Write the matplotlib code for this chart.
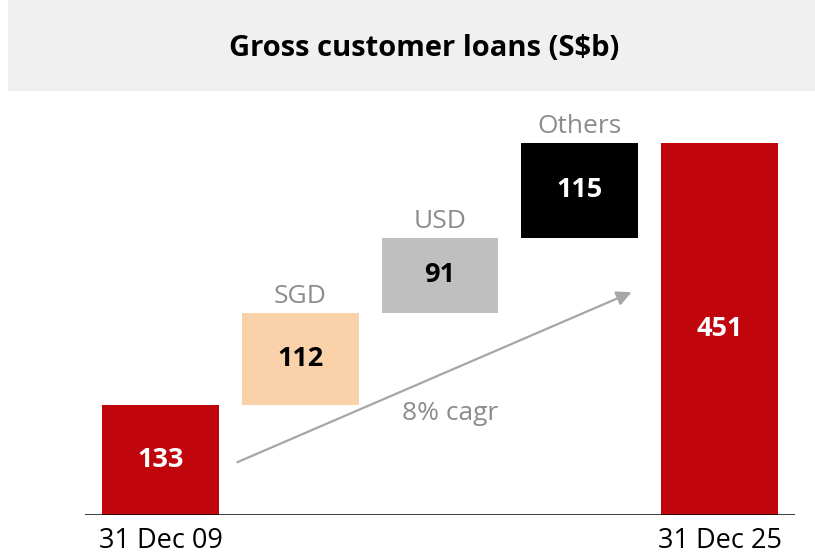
import matplotlib.pyplot as plt
from matplotlib.patches import Rectangle

plt.rcParams['font.family'] = ['Open Sans', 'DejaVu Sans']

# data
steps = ['31 Dec 09', 'SGD', 'USD', 'Others', '31 Dec 25']
values = [133, 112, 91, 115, 451]
is_total = [True, False, False, False, True]
colors = ['#C0050C', '#F9D2A9', '#BFBFBF', '#000000', '#C0050C']
value_colors = ['white', 'black', 'black', 'white', 'white']
tick_labels = ['31 Dec 09', '31 Dec 25']
cagr_text = '8% cagr'

W, H = 815, 557
fig = plt.figure(figsize=(W / 100, H / 100), dpi=100)

# title band
fig.patches.append(Rectangle((8 / W, 1 - 91 / H), 1 - 8 / W, 91 / H,
                             transform=fig.transFigure, facecolor='#F0F0F0',
                             edgecolor='none', zorder=0))
fig.text(424 / W, 1 - 48 / H, 'Gross customer loans (S$b)', ha='center', va='center',
         fontsize=21, fontweight='bold', color='black')

# axes placed so the baseline sits at y=515 px
ax_left, ax_right = 85, 795
ax_bottom = 515
ymax = 500
px_per_unit = 372 / 451
ax_h = ymax * px_per_unit
ax = fig.add_axes([ax_left / W, (H - ax_bottom) / H, (ax_right - ax_left) / W, ax_h / H])
ax.set_xlim(-0.54, 4.54)
ax.set_ylim(0, ymax)

x = list(range(len(steps)))
bottoms = []
running = 0
for v, tot in zip(values, is_total):
    if tot:
        bottoms.append(0)
        running = v
    else:
        bottoms.append(running)
        running += v

width = 0.835
ax.bar(x, values, bottom=bottoms, width=width, color=colors, zorder=2)

for xi, v, b, c, tot, name in zip(x, values, bottoms, value_colors, is_total, steps):
    ax.text(xi, b + v / 2, str(v), ha='center', va='center', fontsize=19.5,
            fontweight='bold', color=c, zorder=3)
    if not tot:
        ax.text(xi, b + v + 5, name, ha='center', va='bottom', fontsize=19,
                color='#8C8C8C')

ax.axhline(0, color='black', linewidth=1.8, zorder=4)

# cagr arrow
ax.annotate('', xy=(3.37, 270), xytext=(0.55, 64),
            arrowprops=dict(arrowstyle='-|>', color='#A6A6A6', lw=1.6,
                            mutation_scale=22, shrinkA=0, shrinkB=0))
ax.text(2.07, 123, cagr_text, ha='center', va='center', fontsize=19, color='#8C8C8C')

ax.set_xticks([0, 4])
ax.set_xticklabels(tick_labels, fontsize=19.5, color='black')
ax.tick_params(axis='x', length=0, pad=9)
ax.set_yticks([])
for s in ax.spines.values():
    s.set_visible(False)
ax.patch.set_alpha(0)

fig.savefig('out.png', dpi=100)
